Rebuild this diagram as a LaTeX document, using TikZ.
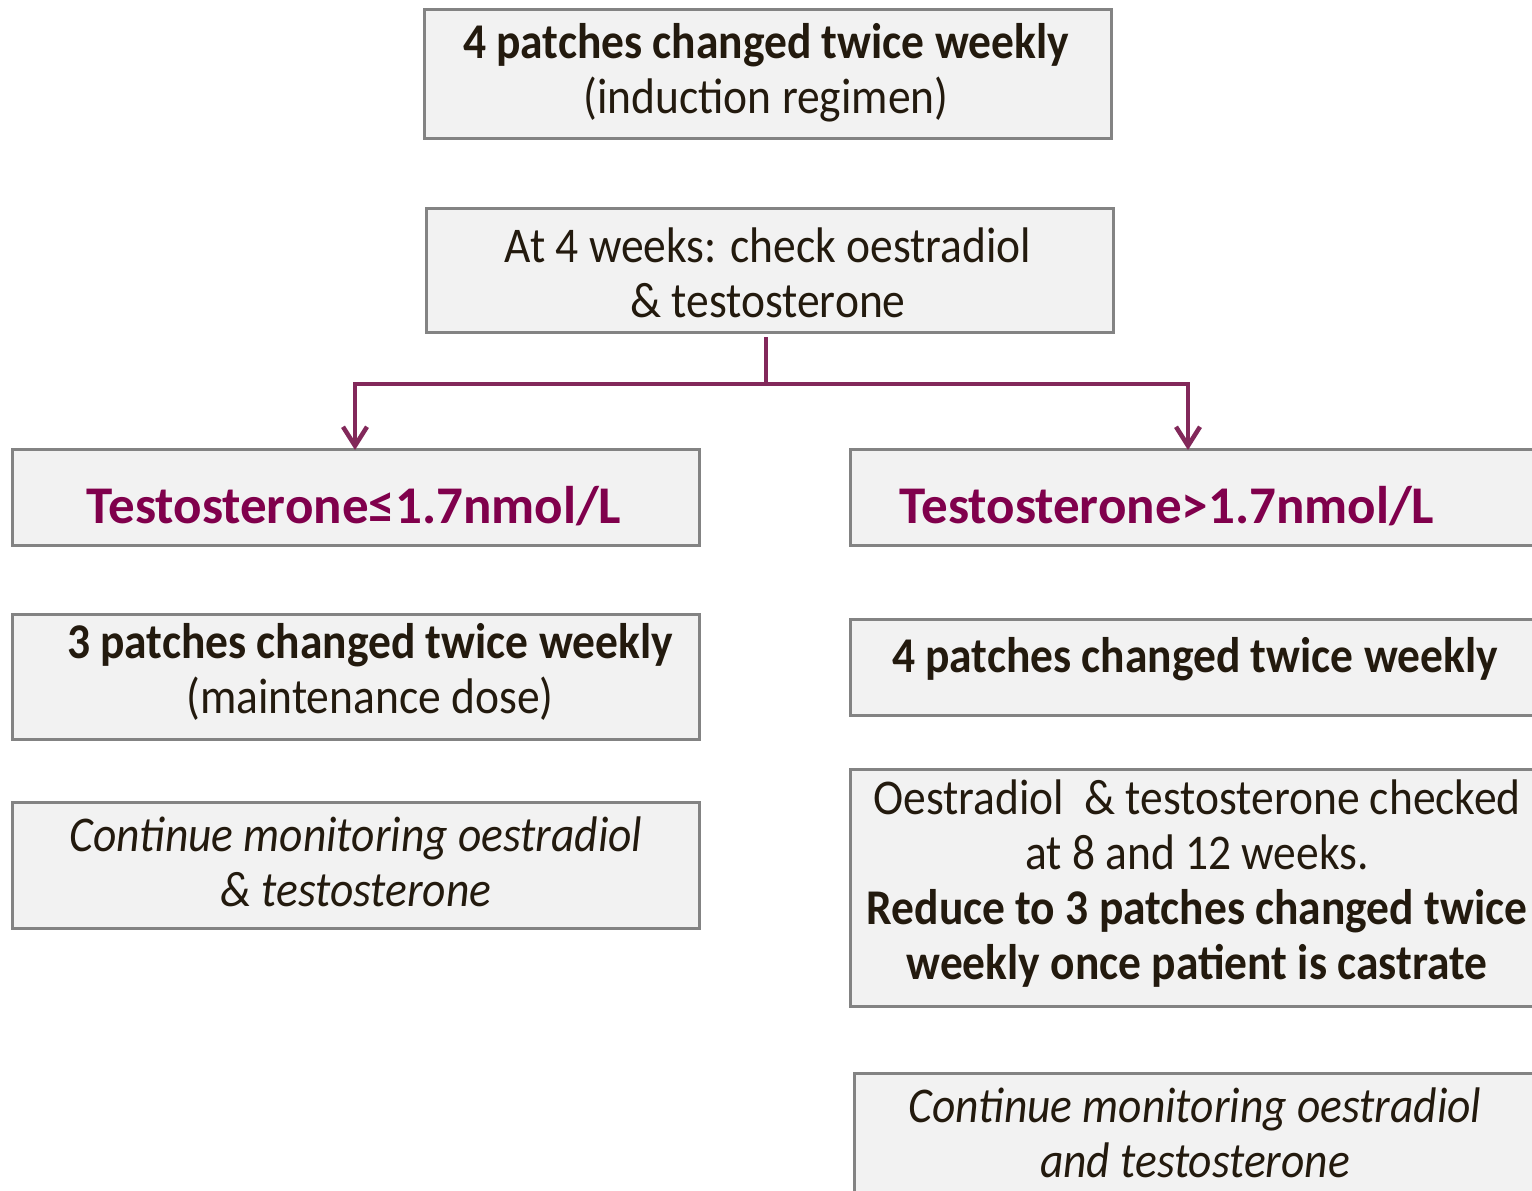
\documentclass[tikz,border=0pt]{standalone}
\usepackage{fontspec}
\setmainfont{Carlito}
\newfontfamily\condf[FakeStretch=0.91]{Carlito}
\usetikzlibrary{arrows.meta}
\definecolor{boxfill}{HTML}{F2F2F2}
\definecolor{boxline}{HTML}{838383}
\definecolor{txt}{HTML}{231A0E}
\definecolor{plum}{HTML}{80004C}
\definecolor{conn}{HTML}{82285A}
\tikzset{
  box/.style={draw=boxline, fill=boxfill, line width=3pt, inner sep=0pt, anchor=north west},
  btxt/.style={text=txt, align=center, inner sep=0pt, font=\condf\fontsize{50}{55}\selectfont},
  ptxt/.style={text=plum, inner sep=0pt, font=\bfseries\fontsize{53}{60}\selectfont},
  conline/.style={draw=conn, line width=4.5pt},
  arr/.style={conline, -{Straight Barb[length=19pt,width=24pt]}}
}
\begin{document}
\begin{tikzpicture}[x=1pt,y=-1pt]
\useasboundingbox (0,0) rectangle (1532,1191);
\clip (0,0) rectangle (1532,1191);
\fill[white] (0,0) rectangle (1532,1191);
% boxes
\node[box, minimum width=687pt, minimum height=129pt] (b1) at (423,8) {};
\node[box, minimum width=687pt, minimum height=124pt] (b2) at (425,207) {};
\node[box, minimum width=687pt, minimum height=96pt] (b3) at (11,448) {};
\node[box, minimum width=700pt, minimum height=96pt] (b4) at (849,448) {};
\node[box, minimum width=687pt, minimum height=125pt] (b5) at (11,613) {};
\node[box, minimum width=700pt, minimum height=96pt] (b6) at (849,618) {};
\node[box, minimum width=687pt, minimum height=126pt] (b7) at (11,801) {};
\node[box, minimum width=700pt, minimum height=237pt] (b8) at (849,768) {};
\node[box, minimum width=700pt, minimum height=160pt] (b9) at (853,1072) {};
% texts
\node[btxt] (t1) at (766,73) {\textbf{4 patches changed twice weekly}\\(induction regimen)};
\node[btxt] (t2) at (768,273) {At 4 weeks: check oestradiol\\\& testosterone};
\node[ptxt] (t3) at (354,506) {Testosterone≤1.7nmol/L};
\node[ptxt] (t4) at (1167,506) {Testosterone>1.7nmol/L};
\node[btxt] (t5) at (370,672) {\textbf{3 patches changed twice weekly}\\(maintenance dose)};
\node[btxt] (t6) at (1195,659) {\textbf{4 patches changed twice weekly}};
\node[btxt] (t7) at (356,862) {\itshape Continue monitoring oestradiol\\\itshape \& testosterone};
\node[btxt] (t8) at (1197,884) {Oestradiol\ \ \& testosterone checked\\at 8 and 12 weeks.\\\textbf{Reduce to 3 patches changed twice}\\\textbf{weekly once patient is castrate}};
\node[btxt] (t9) at (1195,1133) {\itshape Continue monitoring oestradiol\\\itshape and testosterone};
% connectors
\coordinate (j) at (766,384);
\draw[conline] ([yshift=-3pt]b2.south -| j) -- (j);
\draw[arr] (j) -| ([yshift=-2pt]b3.north -| 355,0);
\draw[arr] (j) -| ([yshift=-2pt]b4.north -| 1188,0);
\end{tikzpicture}
\end{document}
